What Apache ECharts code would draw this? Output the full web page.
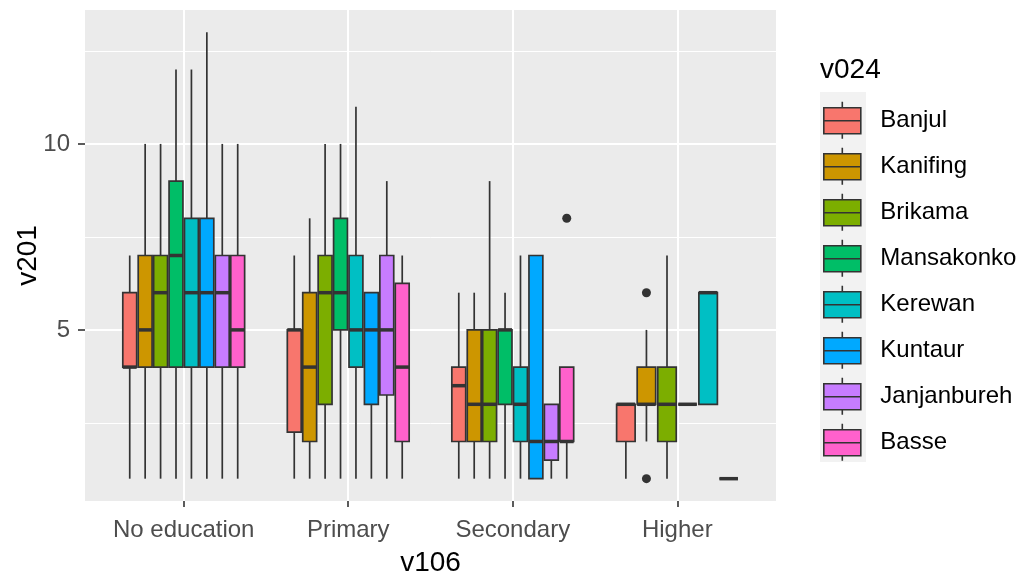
<!DOCTYPE html>
<html><head><meta charset="utf-8">
<script src="https://cdn.jsdelivr.net/npm/echarts@6/dist/echarts.min.js"></script>
<style>html,body{margin:0;padding:0;background:#fff}#c{width:1024px;height:577px}</style>
</head><body><div id="c"></div>
<script>
const categories = ['No education','Primary','Secondary','Higher'];
const groups = ['Banjul','Kanifing','Brikama','Mansakonko','Kerewan','Kuntaur','Janjanbureh','Basse'];
const colors = ['#F8766D','#CD9600','#7CAE00','#00BE67','#00BFC4','#00A9FF','#C77CFF','#FF61CC'];
// [min, q1, median, q3, max] per category; null = group absent in that category
const Banjul      = [[1,4,4,6,7],[1,2.25,5,5,7],[1,2,3.5,4,6],[1,2,3,3,3]];
const Kanifing    = [[1,4,5,7,10],[1,2,4,6,8],[1,2,3,5,6],[2,3,3,4,5]];
const Brikama     = [[1,4,6,7,10],[1,3,6,7,10],[1,2,3,5,9],[1,2,3,4,7]];
const Mansakonko  = [[1,4,7,9,12],[1,5,6,8,10],[1,3,5,5,6],[3,3,3,3,3]];
const Kerewan     = [[1,4,6,8,12],[1,4,5,7,11],[1,2,3,4,7],[3,3,6,6,6]];
const Kuntaur     = [[1,4,6,8,13],[1,3,5,6,6],[1,1,2,7,7],null];
const Janjanbureh = [[1,4,6,7,10],[1,3.25,5,7,9],[1,1.5,2,3,3],null];
const Basse       = [[1,4,5,7,10],[1,2,4,6.25,7],[1,2,2,4,4],[1,1,1,1,1]];
// outliers: [group, category, value]
const outliers = [['Kanifing','Higher',6],['Kanifing','Higher',1],['Basse','Secondary',8]];
const yTicks = [5,10];
const yMinor = [2.5,7.5,12.5];
const xTicks = [1,2,3,4];

const stats = [Banjul,Kanifing,Brikama,Mansakonko,Kerewan,Kuntaur,Janjanbureh,Basse];

// dodge slots: groups present in each category
function slotInfo(gi, ci){
  const present = groups.map((g,i)=>stats[i][ci]?i:-1).filter(i=>i>=0);
  return [present.indexOf(gi), present.length];
}

const LW = 1.7;
const INK = '#333333';
function renderBox(params, api){
  const x = api.value(0), slot = api.value(1), n = api.value(2);
  const lo = api.value(3), q1 = api.value(4), med = api.value(5), q3 = api.value(6), hi = api.value(7);
  const unit = api.size([1,0])[0];
  const total = unit*0.75, w = total/n, bw = w*0.9;
  const cx = api.coord([x,0])[0] - total/2 + w*(slot+0.5);
  const Y = v => api.coord([x,v])[1];
  const yLo=Y(lo), yQ1=Y(q1), yMed=Y(med), yQ3=Y(q3), yHi=Y(hi);
  const color = api.visual('color');
  return {type:'group', children:[
    {type:'line', shape:{x1:cx,y1:yHi,x2:cx,y2:yQ3}, style:{stroke:INK,lineWidth:LW}},
    {type:'line', shape:{x1:cx,y1:yQ1,x2:cx,y2:yLo}, style:{stroke:INK,lineWidth:LW}},
    {type:'rect', shape:{x:cx-bw/2,y:yQ3,width:bw,height:yQ1-yQ3}, style:{fill:color,stroke:INK,lineWidth:LW}},
    {type:'line', shape:{x1:cx-bw/2,y1:yMed,x2:cx+bw/2,y2:yMed}, style:{stroke:INK,lineWidth:3.5}}
  ]};
}
function renderOut(params, api){
  const x = api.value(0), slot = api.value(1), n = api.value(2), v = api.value(3);
  const unit = api.size([1,0])[0];
  const total = unit*0.75, w = total/n;
  const cx = api.coord([x,0])[0] - total/2 + w*(slot+0.5);
  const cy = api.coord([x,v])[1];
  return {type:'circle', shape:{cx:cx,cy:cy,r:4.5}, style:{fill:INK}};
}

const series = groups.map((g,gi)=>({
  name:g, type:'custom', renderItem:renderBox, z:3,
  itemStyle:{color:colors[gi]},
  encode:{x:0,y:[3,4,5,6,7]},
  data: stats[gi].map((s,ci)=>s?[ci+1, ...slotInfo(gi,ci), ...s]:null).filter(d=>d)
}));
series.push({
  name:'outliers', type:'custom', renderItem:renderOut, z:3,
  encode:{x:0,y:3},
  data: outliers.map(o=>{const gi=groups.indexOf(o[0]), ci=categories.indexOf(o[1]); return [ci+1, ...slotInfo(gi,ci), o[2]];})
});
series.push({
  name:'grid', type:'line', data:[], z:1, silent:true,
  markLine:{z:1, silent:true, symbol:['none','none'], label:{show:false}, animation:false,
    data:[
      ...yMinor.map(v=>({yAxis:v, lineStyle:{color:'#fff',width:1,type:'solid'}})),
      ...yTicks.map(v=>({yAxis:v, lineStyle:{color:'#fff',width:2,type:'solid'}})),
      ...xTicks.map(v=>({xAxis:v, lineStyle:{color:'#fff',width:2,type:'solid'}}))
    ]}
});

const FONT = 'Liberation Sans, Arial, sans-serif';
const chart = echarts.init(document.getElementById('c'));
chart.setOption({
  animation:false,
  backgroundColor:'#fff',
  grid:{left:85, right:248, top:10, bottom:76, show:true, backgroundColor:'#EBEBEB', borderWidth:0,
        containLabel:false, outerBoundsMode:'none'},
  title:{text:'v024', left:815, top:51, textStyle:{fontFamily:FONT, fontSize:28, fontWeight:'normal', color:'#000'}},
  graphic:[{type:'rect', left:820, top:92, shape:{width:46, height:370}, style:{fill:'#F2F2F2'}, z:-1}],
  legend:{
    data:groups, orient:'vertical', left:823, top:101, padding:0, itemWidth:38, itemHeight:37, itemGap:7.4,
    selectedMode:false,
    icon:'path://M18.5,0L18.5,6M0,6L37,6L37,32L0,32ZM0,19L37,19M18.5,32L18.5,37',
    itemStyle:{borderColor:INK, borderWidth:1.6},
    textStyle:{fontFamily:FONT, fontSize:24, color:'#000', padding:[0,0,0,14]}
  },
  xAxis:{type:'value', min:0.4, max:4.6,
    name:'v106', nameLocation:'middle', nameGap:48, nameMoveOverlap:false,
    nameTextStyle:{fontFamily:FONT, fontSize:28, color:'#000'},
    axisLine:{show:false},
    axisTick:{show:true, customValues:xTicks, length:6, lineStyle:{color:INK, width:1.6}},
    axisLabel:{customValues:xTicks, formatter:v=>categories[Math.round(v)-1]||'', fontFamily:FONT, fontSize:24, color:'#4D4D4D', margin:17},
    splitLine:{show:false}
  },
  yAxis:{type:'value', min:0.4, max:13.6,
    name:'v201', nameLocation:'middle', nameGap:43, nameMoveOverlap:false,
    nameTextStyle:{fontFamily:FONT, fontSize:28, color:'#000'},
    axisLine:{show:false},
    axisTick:{show:true, customValues:yTicks, length:7, lineStyle:{color:INK, width:1.6}},
    axisLabel:{customValues:yTicks, fontFamily:FONT, fontSize:24, color:'#4D4D4D', margin:15},
    splitLine:{show:false}
  },
  series:series
});
</script></body></html>
